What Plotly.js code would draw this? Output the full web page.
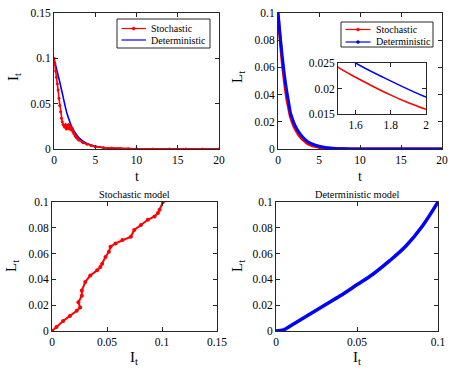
<!DOCTYPE html>
<html>
<head>
<meta charset="utf-8">
<script src="https://cdn.plot.ly/plotly-3.0.1.min.js"></script>
<style>html,body{margin:0;padding:0;background:#fff;}#chart{width:458px;height:376px;}</style>
</head>
<body>
<div id="chart"></div>
<script>
// ---- data ----
const tStoch = [0,0.1,0.2,0.3,0.4,0.5,0.6,0.7,0.8,0.9,1.0,1.1,1.2,1.3,1.4,1.5,1.6,1.7,1.8,1.9,2.0,2.1,2.2,2.3,2.4,2.5,2.6,2.7,2.8,2.9,3.0,3.5,4,4.5,5,6,7,8,9,10,12,14,16,18,20];
const IStoch = [0.1,0.094,0.086,0.079,0.072,0.065,0.056,0.048,0.041,0.034,0.030,0.027,0.026,0.024,0.027,0.022,0.026,0.023,0.027,0.022,0.025,0.021,0.023,0.019,0.017,0.016,0.014,0.013,0.012,0.011,0.0098,0.007,0.0053,0.0038,0.0026,0.0015,0.001,0.0006,0.0004,0.0002,0.0001,0.00005,0,0,0];
const LStoch = [0.1,0.093,0.085,0.078,0.071,0.065,0.059,0.054,0.049,0.044,0.040,0.036,0.033,0.030,0.027,0.0242,0.0222,0.0204,0.0187,0.0172,0.0159,0.0147,0.0136,0.0126,0.0116,0.0106,0.0098,0.009,0.0083,0.0076,0.007,0.0045,0.0029,0.0019,0.0012,0.0005,0.0002,0.0001,0.00004,0.00002,0,0,0,0,0];

const tDet = [0,0.25,0.5,0.75,1,1.25,1.5,1.6,1.75,2,2.25,2.5,3,3.5,4,5,6,7,8,10,12,15,20];
const IDet = [0.1,0.0905,0.0812,0.0718,0.0618,0.0515,0.0418,0.0385,0.0342,0.0278,0.0228,0.0188,0.0127,0.0087,0.006,0.0029,0.0015,0.0008,0.0004,0.0001,0.00003,0,0];
const LDet = [0.1,0.084,0.069,0.056,0.045,0.036,0.0272,0.025,0.0223,0.0183,0.0153,0.0128,0.0088,0.006,0.0042,0.002,0.0009,0.0004,0.00018,0.00004,0,0,0];

const stoPhaseI = [0.1009,0.0978,0.0963,0.0932,0.0871,0.0809,0.0747,0.0717,0.064,0.0578,0.0532,0.0517,0.0486,0.0456,0.044,0.041,0.0348,0.0302,0.0271,0.0271,0.024,0.0256,0.0225,0.0163,0.0101,0.0041,0];
const stoPhaseL = [0.1,0.094,0.0914,0.0888,0.0862,0.0822,0.0783,0.0731,0.0705,0.0679,0.0653,0.0614,0.0574,0.0522,0.0496,0.047,0.0431,0.0379,0.0313,0.0274,0.0222,0.0183,0.0157,0.0117,0.0078,0.0031,0];

const detPhaseI = [0,0.0047,0.0088,0.019,0.0292,0.0394,0.0504,0.0598,0.07,0.0802,0.0904,0.1];
const detPhaseL = [0,0.0008,0.0039,0.0116,0.0194,0.0271,0.0362,0.044,0.0543,0.0659,0.0814,0.1];

const legendNames = ['Stochastic','Deterministic'];
const panelTitles = ['Stochastic model','Deterministic model'];

// ---- layout helpers ----
const W = 458, H = 376;
const px = (a,b) => [a/W, b/W];
const py = (top,bottom) => [1-bottom/H, 1-top/H];
const RED = '#ff0000', BLUE = '#0000ff', FRAME = '#262626';
const FONT = 'Liberation Serif';

function ax(domain, range, tickvals, anchor){
  return {domain: domain, range: range, tickvals: tickvals, ticktext: tickvals.map(v=>String(v)),
    anchor: anchor, showline: true, mirror: 'ticks', linecolor: FRAME, linewidth: 1,
    ticks: 'inside', ticklen: 4, tickcolor: FRAME, showgrid: false, zeroline: false,
    tickfont: {family: FONT, size: 11.5, color: '#000'}, fixedrange: true};
}

const traces = [
  // top-left
  {x: tDet, y: IDet, xaxis: 'x', yaxis: 'y', mode: 'lines', line: {color: BLUE, width: 1.6, shape: 'spline'}},
  {x: tStoch, y: IStoch, xaxis: 'x', yaxis: 'y', mode: 'lines+markers', line: {color: RED, width: 1.6}, marker: {color: RED, size: 3}},
  // top-right
  {x: tStoch, y: LStoch, xaxis: 'x2', yaxis: 'y2', mode: 'lines', line: {color: RED, width: 3, shape: 'spline'}},
  {x: tDet, y: LDet, xaxis: 'x2', yaxis: 'y2', mode: 'lines', line: {color: BLUE, width: 3, shape: 'spline'}},
  // inset
  {x: tStoch, y: LStoch, xaxis: 'x5', yaxis: 'y5', mode: 'lines', line: {color: RED, width: 1.5, shape: 'spline'}},
  {x: tDet, y: LDet, xaxis: 'x5', yaxis: 'y5', mode: 'lines', line: {color: BLUE, width: 1.5, shape: 'spline'}},
  // bottom-left
  {x: stoPhaseI, y: stoPhaseL, xaxis: 'x3', yaxis: 'y3', mode: 'lines+markers', line: {color: RED, width: 2}, marker: {color: RED, size: 4}},
  // bottom-right
  {x: detPhaseI, y: detPhaseL, xaxis: 'x4', yaxis: 'y4', mode: 'lines', line: {color: BLUE, width: 3.5, shape: 'spline'}}
];

function lab(text, x, y, rot, size, anchor){
  return {text: text, x: x/W, y: 1-y/H, xref: 'paper', yref: 'paper', showarrow: false, textangle: rot||0,
    font: {family: FONT, size: size||15, color: '#000'}, xanchor: anchor||'center', yanchor: 'middle'};
}
function P(x,y){ return {x: x/W, y: 1-y/H}; }
function lineShape(x0,y0,x1,y1,color,w){
  const a = P(x0,y0), b = P(x1,y1);
  return {type: 'line', xref: 'paper', yref: 'paper', x0: a.x, y0: a.y, x1: b.x, y1: b.y, line: {color: color, width: w}};
}
function rectShape(x0,y0,x1,y1){
  const a = P(x0,y0), b = P(x1,y1);
  return {type: 'rect', xref: 'paper', yref: 'paper', x0: a.x, y0: a.y, x1: b.x, y1: b.y, line: {color: FRAME, width: 1}, fillcolor: '#fff', layer: 'above'};
}
function dot(x,y,color){
  const a = P(x-1.5,y-1.5), b = P(x+1.5,y+1.5);
  return {type: 'circle', xref: 'paper', yref: 'paper', x0: a.x, y0: a.y, x1: b.x, y1: b.y, line: {color: color, width: 0.5}, fillcolor: color, layer: 'above'};
}

const LF = 10;
const layout = {
  width: W, height: H, margin: {l: 0, r: 0, t: 0, b: 0},
  paper_bgcolor: '#fff', plot_bgcolor: '#fff', showlegend: false,
  xaxis: ax(px(54,219), [0,20], [0,5,10,15,20], 'y'),
  yaxis: ax(py(13,149), [0,0.15], [0,0.05,0.1,0.15], 'x'),
  xaxis2: ax(px(278,442), [0,20], [0,5,10,15,20], 'y2'),
  yaxis2: ax(py(13,149), [0,0.1], [0,0.02,0.04,0.06,0.08,0.1], 'x2'),
  xaxis3: ax(px(52,217), [0,0.15], [0,0.05,0.1,0.15], 'y3'),
  yaxis3: ax(py(202,331), [0,0.1], [0,0.02,0.04,0.06,0.08,0.1], 'x3'),
  xaxis4: ax(px(276,438), [0,0.1], [0,0.05,0.1], 'y4'),
  yaxis4: ax(py(202,331), [0,0.1], [0,0.02,0.04,0.06,0.08,0.1], 'x4'),
  xaxis5: ax(px(338,426), [1.5,2], [1.6,1.8,2], 'y5'),
  yaxis5: ax(py(63,114), [0.015,0.025], [0.015,0.02,0.025], 'x5'),
  shapes: [
    // legend top-left
    rectShape(117,19,210,48),
    lineShape(121.5,28.5,146,28.5,RED,1.2), dot(133.7,28.5,RED),
    lineShape(121.5,40,146,40,BLUE,1.2),
    // legend top-right
    rectShape(341,22,433,47),
    lineShape(345.5,29.5,370.5,29.5,RED,1.2), dot(358,29.5,RED),
    lineShape(345.5,42,370.5,42,BLUE,1.2), dot(358,42,BLUE)
  ],
  annotations: [
    lab(legendNames[0], 149, 28.5, 0, LF, 'left'),
    lab(legendNames[1], 149, 40, 0, LF, 'left'),
    lab(legendNames[0], 373.5, 29.5, 0, LF, 'left'),
    lab(legendNames[1], 373.5, 42, 0, LF, 'left'),
    lab('I<sub>t</sub>', 14, 77, -90, 15),
    lab('t', 137, 176, 0, 14),
    lab('L<sub>t</sub>', 238, 77, -90, 15),
    lab('t', 360, 176, 0, 14),
    lab('L<sub>t</sub>', 12, 266, -90, 15),
    lab('I<sub>t</sub>', 134, 358, 0, 15),
    lab('L<sub>t</sub>', 238, 266, -90, 15),
    lab('I<sub>t</sub>', 357, 358, 0, 15),
    lab(panelTitles[0], 134, 194, 0, 10.3),
    lab(panelTitles[1], 357, 194, 0, 10.3)
  ]
};

Plotly.newPlot('chart', traces, layout, {displayModeBar: false, staticPlot: true});
</script>
</body>
</html>
